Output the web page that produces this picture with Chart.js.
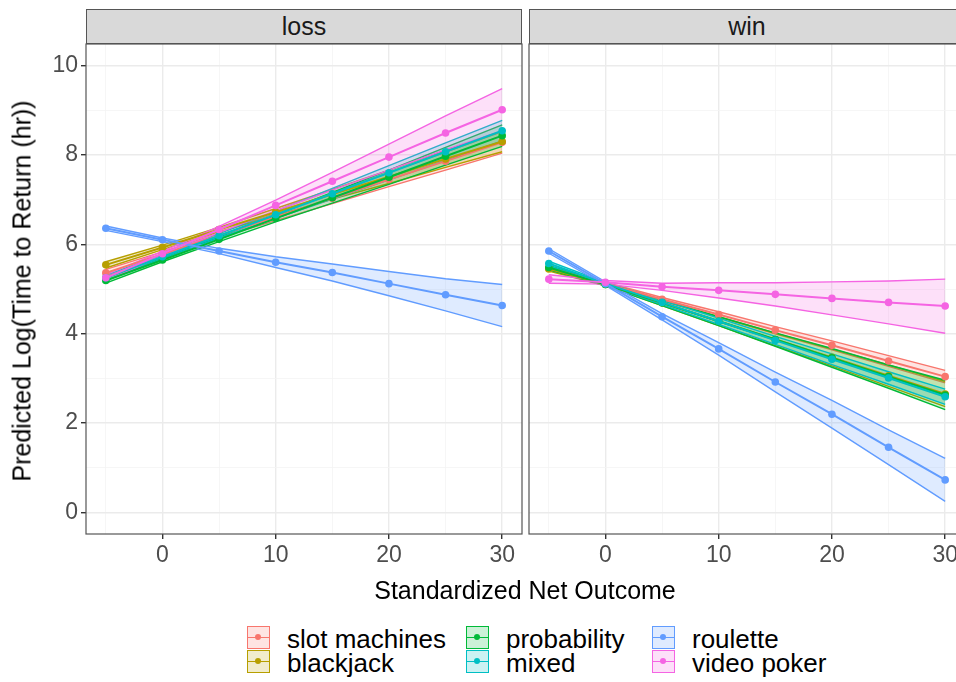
<!DOCTYPE html>
<html>
<head>
<meta charset="utf-8">
<script src="https://cdn.jsdelivr.net/npm/chart.js@4.4.1/dist/chart.umd.min.js"></script>
<style>
  body { margin: 0; width: 956px; height: 682px; overflow: hidden; background: #fff;
         font-family: "Liberation Sans", Arial, sans-serif; position: relative; }
  .panel { position: absolute; top: 40px; height: 540px; }
  .strip { position: absolute; top: 9px; height: 35px; width: 436px; background: #d9d9d9;
           border: 1px solid #555; box-sizing: border-box; text-align: center;
           font-size: 25px; line-height: 33px; color: #1a1a1a; }
  .ytitle { position: absolute; left: 22px; top: 291px; transform: translate(-50%, -50%) rotate(-90deg);
            white-space: nowrap; font-size: 25px; color: #000; }
  .xtitle { position: absolute; left: 525px; top: 590px; transform: translate(-50%, -50%);
            white-space: nowrap; font-size: 25px; color: #000; }
  .key { position: absolute; width: 23px; height: 23px; box-sizing: border-box; border: 1.5px solid; }
  .key .ln { position: absolute; left: 0; right: 0; top: 9.5px; height: 1.5px; }
  .key .dt { position: absolute; left: 7px; top: 7px; width: 6px; height: 6px; border-radius: 50%; }
  .lab { position: absolute; font-size: 26px; line-height: 27px; color: #000; white-space: nowrap; }
</style>
</head>
<body>
<div class="strip" style="left:86px">loss</div>
<div class="strip" style="left:529px">win</div>
<div class="panel" style="left:0;width:530px"><canvas id="lossChart"></canvas></div>
<div class="panel" style="left:525px;width:450px"><canvas id="winChart"></canvas></div>
<div class="ytitle">Predicted Log(Time to Return (hr))</div>
<div class="xtitle">Standardized Net Outcome</div>
<div id="legend"></div>
<script>
// values
const xValues = [-5, 0, 5, 10, 15, 20, 25, 30];
const categories = ['slot machines', 'blackjack', 'probability', 'mixed', 'roulette', 'video poker'];
const colors = ['#F8766D', '#B79F00', '#00BA38', '#00BFC4', '#619CFF', '#F564E3'];

const xTicks = [-5, 0, 5, 10, 15, 20, 25, 30];
const xTickLabels = ['0', '10', '20', '30'];
const yTicks = [0, 1, 2, 3, 4, 5, 6, 7, 8, 9, 10];
const yTickLabels = ['0', '2', '4', '6', '8', '10'];

// loss panel, one row per category (same order as categories)
const lossFit = [
  [5.36, 5.78, 6.20, 6.61, 7.03, 7.45, 7.86, 8.28],
  [5.54, 5.93, 6.33, 6.72, 7.12, 7.51, 7.91, 8.30],
  [5.19, 5.65, 6.11, 6.58, 7.04, 7.50, 7.97, 8.43],
  [5.25, 5.72, 6.19, 6.66, 7.13, 7.60, 8.07, 8.54],
  [6.36, 6.10, 5.85, 5.60, 5.37, 5.12, 4.87, 4.63],
  [5.25, 5.79, 6.33, 6.87, 7.41, 7.95, 8.49, 9.01]
];
const lossLow = [
  [5.28, 5.73, 6.15, 6.53, 6.91, 7.29, 7.66, 8.04],
  [5.47, 5.88, 6.28, 6.64, 7.01, 7.36, 7.72, 8.07],
  [5.13, 5.61, 6.06, 6.50, 6.92, 7.34, 7.77, 8.19],
  [5.19, 5.68, 6.14, 6.58, 7.01, 7.44, 7.87, 8.31],
  [6.31, 6.06, 5.79, 5.48, 5.18, 4.85, 4.51, 4.16],
  [5.18, 5.74, 6.26, 6.75, 7.21, 7.66, 8.11, 8.54]
];
const lossHigh = [
  [5.44, 5.83, 6.25, 6.69, 7.15, 7.61, 8.06, 8.52],
  [5.61, 5.98, 6.38, 6.80, 7.23, 7.66, 8.10, 8.53],
  [5.25, 5.69, 6.16, 6.66, 7.16, 7.66, 8.17, 8.67],
  [5.31, 5.76, 6.24, 6.74, 7.25, 7.76, 8.27, 8.77],
  [6.41, 6.14, 5.91, 5.72, 5.56, 5.39, 5.23, 5.10],
  [5.32, 5.84, 6.40, 6.99, 7.61, 8.24, 8.87, 9.48]
];

// win panel
const winFit = [
  [5.47, 5.12, 4.77, 4.43, 4.08, 3.74, 3.39, 3.04],
  [5.45, 5.10, 4.69, 4.28, 3.87, 3.47, 3.06, 2.65],
  [5.48, 5.10, 4.69, 4.28, 3.87, 3.46, 3.04, 2.63],
  [5.57, 5.12, 4.70, 4.28, 3.85, 3.43, 3.01, 2.59],
  [5.85, 5.12, 4.38, 3.66, 2.92, 2.20, 1.46, 0.73],
  [5.22, 5.15, 5.05, 4.97, 4.88, 4.79, 4.70, 4.62]
];
const winLow = [
  [5.43, 5.09, 4.73, 4.37, 4.00, 3.64, 3.27, 2.90],
  [5.40, 5.07, 4.63, 4.18, 3.73, 3.28, 2.82, 2.37],
  [5.43, 5.07, 4.63, 4.18, 3.72, 3.25, 2.78, 2.30],
  [5.52, 5.09, 4.65, 4.21, 3.76, 3.31, 2.87, 2.42],
  [5.80, 5.08, 4.31, 3.52, 2.70, 1.89, 1.07, 0.25],
  [5.13, 5.11, 4.97, 4.80, 4.62, 4.42, 4.22, 4.01]
];
const winHigh = [
  [5.51, 5.15, 4.81, 4.49, 4.16, 3.84, 3.51, 3.18],
  [5.50, 5.13, 4.75, 4.38, 4.01, 3.66, 3.30, 2.93],
  [5.53, 5.13, 4.75, 4.38, 4.02, 3.67, 3.30, 2.96],
  [5.62, 5.15, 4.75, 4.35, 3.94, 3.55, 3.15, 2.76],
  [5.90, 5.16, 4.45, 3.80, 3.14, 2.51, 1.85, 1.21],
  [5.32, 5.19, 5.13, 5.14, 5.14, 5.16, 5.18, 5.22]
];

const tickFont = { family: 'Liberation Sans, Arial, sans-serif', size: 23 };

function pts(row) {
  return xValues.map((x, j) => ({ x: x, y: row[j] }));
}

function buildDatasets(fit, low, high) {
  const sets = [];
  categories.forEach((name, i) => {
    const c = colors[i];
    sets.push({
      label: name + ' upper', data: pts(high[i]), borderColor: c, borderWidth: 1.4,
      pointRadius: 0, fill: '+1', backgroundColor: c + '33', order: 100 + (5 - i) * 2
    });
    sets.push({
      label: name + ' lower', data: pts(low[i]), borderColor: c, borderWidth: 1.4,
      pointRadius: 0, fill: false, order: 100 + (5 - i) * 2
    });
    sets.push({
      label: name, data: pts(fit[i]), borderColor: c, borderWidth: 2,
      pointRadius: 3.8, pointBackgroundColor: c, pointBorderWidth: 0, fill: false,
      order: 10 + (5 - i)
    });
  });
  return sets;
}

const panelBorder = {
  id: 'panelBorder',
  afterDatasetsDraw(chart) {
    const a = chart.chartArea, ctx = chart.ctx;
    ctx.save();
    ctx.strokeStyle = '#555';
    ctx.lineWidth = 1.2;
    ctx.strokeRect(a.left, a.top, a.right - a.left, a.bottom - a.top);
    ctx.restore();
  }
};

function makePanel(id, fit, low, high, showY) {
  new Chart(document.getElementById(id), {
    type: 'line',
    data: { datasets: buildDatasets(fit, low, high) },
    plugins: [panelBorder],
    options: {
      responsive: true,
      maintainAspectRatio: false,
      animation: false,
      layout: { padding: { top: 4, right: showY ? 8 : 10, left: 0, bottom: 0 } },
      plugins: { legend: { display: false }, tooltip: { enabled: false } },
      scales: {
        x: {
          type: 'linear', min: -6.75, max: 31.75,
          afterBuildTicks: s => { s.ticks = xTicks.map(v => ({ value: v })); },
          afterFit: s => { s.height = 46; s.paddingLeft = 0; s.paddingRight = 0; },
          border: { display: false },
          grid: {
            color: c => c.tick.value % 10 === 0 ? '#ebebeb' : '#f4f4f4',
            lineWidth: c => c.tick.value % 10 === 0 ? 1.4 : 0.8,
            tickLength: 5,
            tickColor: c => c.tick.value % 10 === 0 ? '#333' : 'rgba(0,0,0,0)'
          },
          ticks: {
            callback: v => xTickLabels.includes(String(v)) ? String(v) : '',
            font: tickFont, color: '#4d4d4d', padding: 3, maxRotation: 0, autoSkip: false
          }
        },
        y: {
          min: -0.48, max: 10.48,
          afterBuildTicks: s => { s.ticks = yTicks.map(v => ({ value: v })); },
          afterFit: s => { s.width = showY ? 86 : 4; s.paddingTop = 0; s.paddingBottom = 0; },
          border: { display: false },
          grid: {
            color: c => c.tick.value % 2 === 0 ? '#ebebeb' : '#f4f4f4',
            lineWidth: c => c.tick.value % 2 === 0 ? 1.4 : 0.8,
            drawTicks: showY,
            tickLength: 5,
            tickColor: c => c.tick.value % 2 === 0 ? '#333' : 'rgba(0,0,0,0)'
          },
          ticks: {
            display: showY,
            callback: v => yTickLabels.includes(String(v)) ? String(v) : '',
            font: tickFont, color: '#4d4d4d', padding: 3, autoSkip: false
          }
        }
      }
    }
  });
}

makePanel('lossChart', lossFit, lossLow, lossHigh, true);
makePanel('winChart', winFit, winLow, winHigh, false);

// legend: two rows, filled column by column
const legendCols = [247, 466, 652];
const legendRows = [626, 650];
const legend = document.getElementById('legend');
categories.forEach((name, i) => {
  const col = Math.floor(i / 2), row = i % 2;
  const c = colors[i];
  const key = document.createElement('div');
  key.className = 'key';
  key.style.left = legendCols[col] + 'px';
  key.style.top = legendRows[row] + 'px';
  key.style.borderColor = c;
  key.style.background = c + '33';
  key.innerHTML = '<div class="ln" style="background:' + c + '"></div><div class="dt" style="background:' + c + '"></div>';
  legend.appendChild(key);
  const lab = document.createElement('div');
  lab.className = 'lab';
  lab.style.left = (legendCols[col] + 40) + 'px';
  lab.style.top = legendRows[row] + 'px';
  lab.textContent = name;
  legend.appendChild(lab);
});
</script>
</body>
</html>
